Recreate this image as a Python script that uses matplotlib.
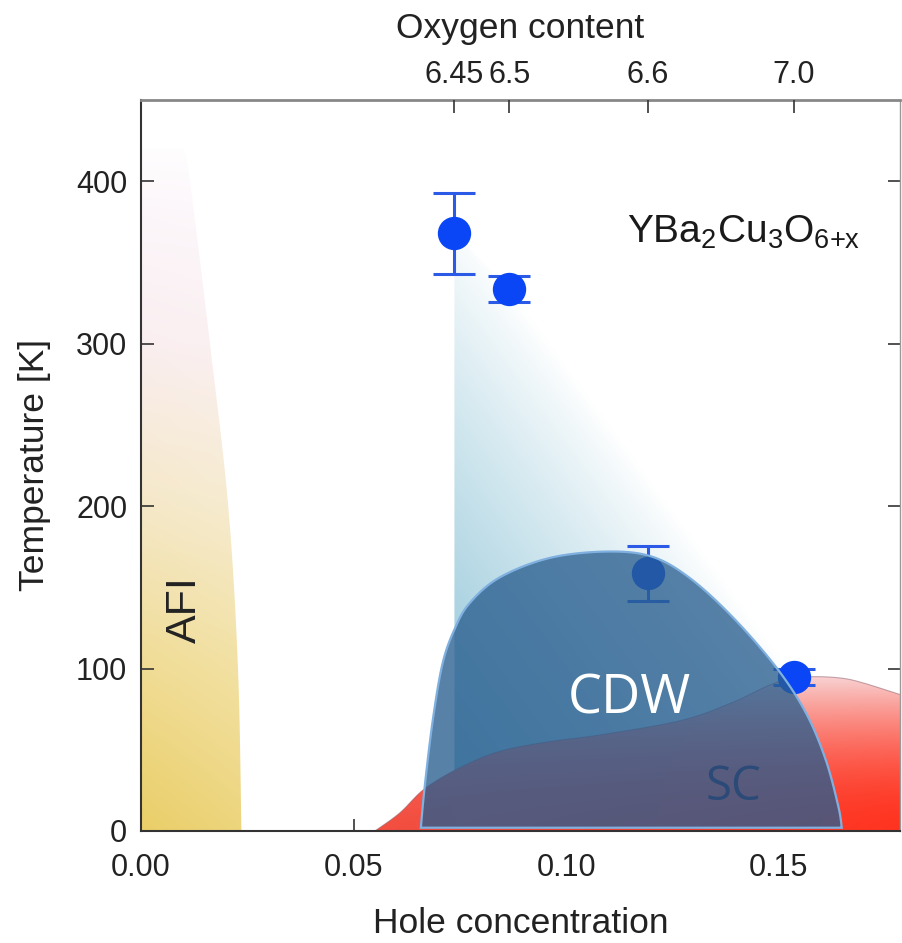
import numpy as np
import matplotlib
matplotlib.use('Agg')
import matplotlib.pyplot as plt
from matplotlib.patches import Polygon

plt.rcParams['font.family'] = ['Liberation Sans', 'DejaVu Sans']
plt.rcParams['mathtext.fontset'] = 'custom'
plt.rcParams['mathtext.rm'] = 'Liberation Sans'
plt.rcParams['mathtext.it'] = 'Liberation Sans:italic'

# CDW onset temperatures (points with error bars)
hole_p = [0.0737, 0.0866, 0.1192, 0.1535]
cdw_T = [368, 333.5, 158.5, 95]
cdw_err = [25, 8, 17, 5]
oxygen_labels = ['6.45', '6.5', '6.6', '7.0']

# CDW dome outline
dome_p = [0.0658, 0.0667, 0.0686, 0.0709, 0.0737, 0.0772, 0.0843, 0.0960,
          0.1094, 0.1200, 0.1289, 0.1390, 0.1493, 0.1563, 0.1610, 0.1640, 0.1648]
dome_T = [2, 27, 68, 103, 124, 140, 156, 168, 172, 169, 156, 132, 101, 73, 44, 15, 2]

# superconducting dome (top boundary)
sc_p = [0.0550, 0.0608, 0.0667, 0.0750, 0.0843, 0.0960, 0.1077, 0.1270,
        0.1390, 0.1480, 0.1535, 0.1587, 0.1650, 0.1700, 0.1785]
sc_T = [0, 11, 26, 39, 49, 55, 59, 68, 79, 90, 94, 95, 94, 91, 84]

# antiferromagnetic insulator boundary
afi_p = [0.0236, 0.0228, 0.0205, 0.0162, 0.0115, 0.0100]
afi_T = [0, 100, 200, 300, 400, 420]

x_ticks = [0.0, 0.05, 0.10, 0.15]
x_labels = ['0.00', '0.05', '0.10', '0.15']
y_ticks = [0, 100, 200, 300, 400]
xmax, ymax = 0.1785, 450

fig = plt.figure(figsize=(9.03, 9.43), dpi=100)
ax = fig.add_axes([0.1562, 0.1188, 0.8405, 0.7752])

SX, SY = 4260.0, 1.625  # rough pixels per data unit, for isotropic curves


def smooth(xs, ys, n=16):
    # Catmull-Rom curve through the outline points
    P = np.column_stack([np.asarray(xs) * SX, np.asarray(ys) * SY])
    P = np.vstack([P[0], P, P[-1]])
    out = []
    s = np.linspace(0, 1, n, endpoint=False)[:, None]
    for i in range(1, len(P) - 2):
        p0, p1, p2, p3 = P[i - 1], P[i], P[i + 1], P[i + 2]
        seg = 0.5 * ((2 * p1) + (-p0 + p2) * s + (2 * p0 - 5 * p1 + 4 * p2 - p3) * s ** 2
                     + (-p0 + 3 * p1 - 3 * p2 + p3) * s ** 3)
        out.append(seg)
    out.append(P[-2][None, :])
    C = np.vstack(out)
    return C[:, 0] / SX, C[:, 1] / SY


def clipped_image(rgba, extent, verts, zorder):
    patch = Polygon(verts, closed=True, facecolor='none', edgecolor='none',
                    transform=ax.transData)
    ax.add_patch(patch)
    im = ax.imshow(rgba, extent=extent, origin='lower', aspect='auto',
                   interpolation='bilinear', zorder=zorder)
    im.set_clip_path(patch)
    return im


def ramp(vals, stops, colors):
    colors = np.array(colors, dtype=float) / 255.0
    return np.stack([np.interp(vals, stops, colors[:, k]) for k in range(3)], axis=-1)


# --- AFI region (yellow fading to pale pink) ---
afi_ext = [0, 0.025, 0, 430]
gy = np.linspace(0, 430, 200)
gx = np.linspace(0, 0.025, 50)
GX, GY = np.meshgrid(gx, gy)
afi_rgb = ramp(GY, [0, 100, 200, 300, 380, 430],
               [(234, 206, 104), (240, 220, 148), (245, 232, 200),
                (250, 238, 240), (252, 246, 250), (255, 255, 255)])
afi_rgb = afi_rgb + (1 - afi_rgb) * (GX / 0.025)[..., None] * 0.15
ax_s, at_s = smooth(afi_p, afi_T)
afi_verts = [(0, 0)] + list(zip(ax_s, at_s)) + [(0, afi_T[-1])]
clipped_image(np.clip(afi_rgb, 0, 1), afi_ext, afi_verts, 1)

# --- light-blue CDW fluctuation region ---
tri_ext = [hole_p[0], hole_p[3], 0, cdw_T[0]]
tx = np.linspace(hole_p[0], hole_p[3], 200)
ty = np.linspace(0, cdw_T[0], 200)
TX, TY = np.meshgrid(tx, ty)
ax_, ay_ = hole_p[1] * SX, cdw_T[1] * SY
bx_, by_ = hole_p[3] * SX, cdw_T[3] * SY
nx, ny = -(by_ - ay_), (bx_ - ax_)
nrm = np.hypot(nx, ny)
dist = ((TX * SX - ax_) * nx + (TY * SY - ay_) * ny) / nrm
dmax = abs(((hole_p[0] * SX - ax_) * nx + (0 - ay_) * ny) / nrm)
t = np.clip(np.abs(dist) / dmax, 0, 1) ** 0.85
tri_rgb = ramp(t, [0, 1], [(255, 255, 255), (135, 192, 212)])
tri_verts = [(hole_p[0], cdw_T[0]), (hole_p[1], cdw_T[1]), (hole_p[3], cdw_T[3]),
             (hole_p[3], 0), (hole_p[0], 0)]
clipped_image(tri_rgb, tri_ext, tri_verts, 1)

# --- SC dome (red gradient, lighter with temperature) ---
sc_ps, sc_Ts = smooth(sc_p, sc_T)
sc_ext = [sc_p[0], xmax, 0, 100]
cx = np.linspace(sc_p[0], xmax, 300)
cy = np.linspace(0, 100, 150)
CX, CY = np.meshgrid(cx, cy)
tt = np.clip(CY / max(sc_T), 0, 1) ** 1.8
hfrac = (CX - sc_p[0]) / (xmax - sc_p[0])
base = ramp(hfrac, [0, 1], [(242, 80, 66), (255, 52, 32)])
top = np.array([248, 210, 210]) / 255.0
sc_rgb = base + (top - base) * tt[..., None]
sc_verts = list(zip(sc_ps, sc_Ts)) + [(xmax, 0)]
clipped_image(np.clip(sc_rgb, 0, 1), sc_ext, sc_verts, 2)
ax.plot(sc_ps, sc_Ts, color=(0.55, 0.35, 0.40), lw=0.8, alpha=0.5, zorder=2.5)

# --- data points ---
ax.errorbar(hole_p, cdw_T, yerr=cdw_err, fmt='o', ms=23, color='#0a46f5',
            mec='#0a46f5', ecolor='#2a5ae6', elinewidth=2.2, capsize=15,
            capthick=2.2, zorder=3)

# --- CDW dome ---
dp, dT = smooth(dome_p, dome_T)
dome_verts = list(zip(dp, dT))
ax.add_patch(Polygon(dome_verts, closed=True, facecolor=(0.16, 0.37, 0.56),
                     alpha=0.78, edgecolor='none', zorder=4))
ax.add_patch(Polygon(dome_verts, closed=True, facecolor='none',
                     edgecolor='#7fb0e0', lw=1.6, zorder=4.1))

# --- labels in plot ---
ax.text(0.1143, 362, r'YBa$_2$Cu$_3$O$_{\mathrm{6{+}x}}$', fontsize=28,
        color='#1a1a1a', ha='left', va='baseline', zorder=6)
ax.text(0.1148, 81, 'CDW', fontsize=39, color='white', family='Open Sans',
        ha='center', va='center', zorder=6)
ax.text(0.1394, 27, 'SC', fontsize=34, color='#2b4a78', family='Open Sans',
        ha='center', va='center', zorder=6)
ax.text(0.0103, 136, 'AFI', fontsize=31, color='#222222', rotation=90,
        ha='center', va='center', zorder=6)

# --- axes ---
ax.set_xlim(0, xmax)
ax.set_ylim(0, ymax)
ax.set_xticks(x_ticks, x_labels)
ax.set_yticks(y_ticks)
ax.tick_params(axis='both', direction='in', length=9, width=1.2,
               labelsize=22, colors='#333333', labelcolor='#222222')
ax.tick_params(axis='x', pad=16, top=False)
ax.tick_params(axis='y', pad=10, right=True)
ax.set_xlabel('Hole concentration', fontsize=25.5, labelpad=17, color='#222222')
ax.set_ylabel('Temperature [K]', fontsize=25.5, labelpad=18, color='#222222')
for side in ['left', 'bottom']:
    ax.spines[side].set_color('#333333')
    ax.spines[side].set_linewidth(1.5)
ax.spines['right'].set_color('#999999')
ax.spines['right'].set_linewidth(1.0)
ax.spines['top'].set_color('#888888')
ax.spines['top'].set_linewidth(2.0)

ax2 = ax.twiny()
ax2.set_xlim(ax.get_xlim())
ax2.set_xticks(hole_p, oxygen_labels)
ax2.tick_params(axis='x', direction='in', length=9, width=1.2, labelsize=22,
                pad=7, colors='#333333', labelcolor='#222222')
ax2.set_xlabel('Oxygen content', fontsize=25.5, labelpad=16, color='#222222')
for side in ax2.spines:
    ax2.spines[side].set_visible(False)

fig.savefig('out.png', dpi=100)
plt.close(fig)
